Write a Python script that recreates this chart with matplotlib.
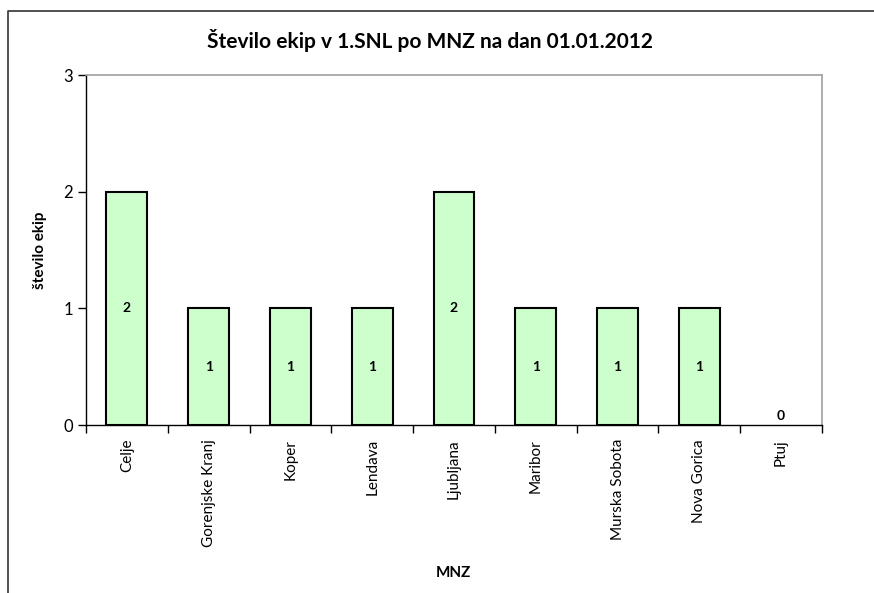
import numpy as np
import matplotlib.pyplot as plt
from matplotlib.lines import Line2D

regions = ['Celje', 'Gorenjske Kranj', 'Koper', 'Lendava', 'Ljubljana',
           'Maribor', 'Murska Sobota', 'Nova Gorica', 'Ptuj']
teams = [2, 1, 1, 1, 2, 1, 1, 1, 0]

plt.rcParams['font.family'] = ['Lato', 'DejaVu Sans']

fig = plt.figure(figsize=(8.74, 5.93), dpi=100)
ax = fig.add_axes([0.0984, 0.2833, 0.8421, 0.5902])

x = np.arange(len(regions))
edges = ['black' if v > 0 else 'none' for v in teams]
ax.bar(x, teams, width=0.5, color='#ccffcc', edgecolor=edges, linewidth=1.5, zorder=2)

for xi, v in zip(x, teams):
    if v > 0:
        ax.text(xi, v / 2, str(v), ha='center', va='center', fontsize=10, fontweight='bold')
    else:
        ax.text(xi, 0.03, str(v), ha='center', va='bottom', fontsize=10, fontweight='bold')

ax.set_xlim(-0.5, len(regions) - 0.5)
ax.set_ylim(0, 3)
ax.set_yticks([0, 1, 2, 3])
ax.tick_params(axis='y', labelsize=12, length=6, width=1, direction='out')
ax.set_xticks(x)
ax.set_xticklabels(regions, rotation=90, fontsize=11)
ax.tick_params(axis='x', which='major', length=0, pad=10)
ax.set_xticks(np.arange(-0.5, len(regions)), minor=True)
ax.tick_params(axis='x', which='minor', length=6, width=1, direction='out')

for s in ['top', 'right']:
    ax.spines[s].set_color('#a0a0a0')
    ax.spines[s].set_linewidth(1.2)
for s in ['left', 'bottom']:
    ax.spines[s].set_color('black')
    ax.spines[s].set_linewidth(1)

ax.set_ylabel('število ekip', fontsize=11, fontweight='bold', labelpad=12)
fig.text(453 / 874, 1 - 573 / 593, 'MNZ', ha='center', va='center', fontsize=11, fontweight='bold')
fig.text(430 / 874, 1 - 40 / 593, 'Število ekip v 1.SNL po MNZ na dan 01.01.2012',
         ha='center', va='center', fontsize=15, fontweight='bold')

# chart frame (top and left edges)
fig.add_artist(Line2D([8 / 874, 8 / 874, 1.0], [0.0, 1 - 11 / 593, 1 - 11 / 593],
                      transform=fig.transFigure, color='#333333', linewidth=1.2))

fig.savefig('out.png', dpi=100)
